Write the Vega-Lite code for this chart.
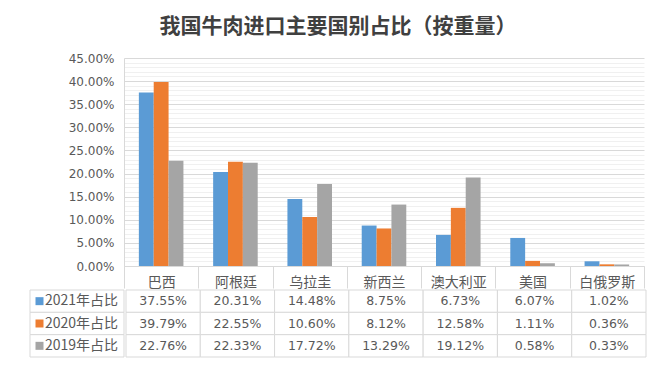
{
  "$schema": "https://vega.github.io/schema/vega-lite/v6.json",
  "padding": {"left": 29, "top": 16, "right": 5, "bottom": 5},
  "background": "white",
  "title": {"text": "我国牛肉进口主要国别占比（按重量）", "font": "Noto Sans CJK SC", "fontSize": 21, "fontWeight": "bold", "color": "#404040", "anchor": "middle", "offset": 15},
  "datasets": {
    "beef": [
      {"country": "巴西", "series": "2021年占比", "value": 0.3755},
      {"country": "巴西", "series": "2020年占比", "value": 0.3979},
      {"country": "巴西", "series": "2019年占比", "value": 0.2276},
      {"country": "阿根廷", "series": "2021年占比", "value": 0.2031},
      {"country": "阿根廷", "series": "2020年占比", "value": 0.2255},
      {"country": "阿根廷", "series": "2019年占比", "value": 0.2233},
      {"country": "乌拉圭", "series": "2021年占比", "value": 0.1448},
      {"country": "乌拉圭", "series": "2020年占比", "value": 0.1060},
      {"country": "乌拉圭", "series": "2019年占比", "value": 0.1772},
      {"country": "新西兰", "series": "2021年占比", "value": 0.0875},
      {"country": "新西兰", "series": "2020年占比", "value": 0.0812},
      {"country": "新西兰", "series": "2019年占比", "value": 0.1329},
      {"country": "澳大利亚", "series": "2021年占比", "value": 0.0673},
      {"country": "澳大利亚", "series": "2020年占比", "value": 0.1258},
      {"country": "澳大利亚", "series": "2019年占比", "value": 0.1912},
      {"country": "美国", "series": "2021年占比", "value": 0.0607},
      {"country": "美国", "series": "2020年占比", "value": 0.0111},
      {"country": "美国", "series": "2019年占比", "value": 0.0058},
      {"country": "白俄罗斯", "series": "2021年占比", "value": 0.0102},
      {"country": "白俄罗斯", "series": "2020年占比", "value": 0.0036},
      {"country": "白俄罗斯", "series": "2019年占比", "value": 0.0033}
    ],
    "series": [
      {"series": "2021年占比"},
      {"series": "2020年占比"},
      {"series": "2019年占比"}
    ]
  },
  "spacing": 0,
  "resolve": {"scale": {"x": "independent", "y": "independent"}},
  "vconcat": [
    {
      "data": {"name": "beef"},
      "width": 614,
      "height": 208,
      "mark": {"type": "bar"},
      "encoding": {
        "x": {
          "field": "country", "type": "nominal",
          "sort": ["巴西", "阿根廷", "乌拉圭", "新西兰", "澳大利亚", "美国", "白俄罗斯"],
          "scale": {"paddingInner": 0, "paddingOuter": 0, "range": [94, 614]},
          "axis": {"title": null, "labelAngle": 0, "domainColor": "#d9d9d9", "tickColor": "#d9d9d9", "tickSize": 22, "tickBand": "extent", "labelPadding": -6, "labelBaseline": "middle", "labelFontSize": 14, "labelColor": "#595959", "labelFont": "Noto Sans CJK SC", "grid": false}
        },
        "xOffset": {
          "field": "series", "type": "nominal",
          "sort": ["2021年占比", "2020年占比", "2019年占比"],
          "scale": {"paddingInner": 0, "paddingOuter": 1.5}
        },
        "y": {
          "field": "value", "type": "quantitative",
          "scale": {"domain": [0, 0.45], "nice": false},
          "axis": {
            "title": null,
            "offset": -94,
            "values": [0, 0.01, 0.02, 0.03, 0.04, 0.05, 0.06, 0.07, 0.08, 0.09, 0.1, 0.11, 0.12, 0.13, 0.14, 0.15, 0.16, 0.17, 0.18, 0.19, 0.2, 0.21, 0.22, 0.23, 0.24, 0.25, 0.26, 0.27, 0.28, 0.29, 0.3, 0.31, 0.32, 0.33, 0.34, 0.35, 0.36, 0.37, 0.38, 0.39, 0.4, 0.41, 0.42, 0.43, 0.44, 0.45],
            "format": ".2%",
            "labelExpr": "round(datum.value*100) % 5 === 0 ? datum.label : ''",
            "labelOverlap": false,
            "grid": true,
            "gridColor": {"condition": {"test": "round(datum.value*100) % 5 === 0", "value": "#d9d9d9"}, "value": "#f0f0f0"},
            "ticks": false,
            "domain": true,
            "domainColor": "#d9d9d9",
            "labelPadding": 10,
            "labelFont": "DejaVu Sans",
            "labelFontSize": 12,
            "labelColor": "#595959"
          }
        },
        "color": {
          "field": "series", "type": "nominal",
          "scale": {"domain": ["2021年占比", "2020年占比", "2019年占比"], "range": ["#5B9BD5", "#ED7D31", "#A5A5A5"]},
          "legend": null
        }
      }
    },
    {
      "spacing": 0,
      "hconcat": [
        {
          "data": {"name": "series"},
          "width": 94,
          "height": 67,
          "encoding": {
            "y": {"field": "series", "type": "nominal", "sort": ["2021年占比", "2020年占比", "2019年占比"], "scale": {"paddingInner": 0, "paddingOuter": 0}, "axis": null}
          },
          "layer": [
            {"mark": {"type": "rect", "fill": "white", "stroke": "#d9d9d9", "strokeWidth": 1}},
            {
              "mark": {"type": "point", "shape": "square", "filled": true, "size": 64, "opacity": 1, "xOffset": -37.5},
              "encoding": {
                "color": {"field": "series", "type": "nominal", "scale": {"domain": ["2021年占比", "2020年占比", "2019年占比"], "range": ["#5B9BD5", "#ED7D31", "#A5A5A5"]}, "legend": null}
              }
            },
            {
              "mark": {"type": "text", "align": "left", "xOffset": -32, "font": "Noto Sans CJK SC", "fontSize": 14, "color": "#595959"},
              "encoding": {"text": {"field": "series", "type": "nominal"}}
            }
          ]
        },
        {
          "data": {"name": "beef"},
          "width": 520,
          "height": 67,
          "encoding": {
            "x": {"field": "country", "type": "nominal", "sort": ["巴西", "阿根廷", "乌拉圭", "新西兰", "澳大利亚", "美国", "白俄罗斯"], "scale": {"paddingInner": 0, "paddingOuter": 0}, "axis": null},
            "y": {"field": "series", "type": "nominal", "sort": ["2021年占比", "2020年占比", "2019年占比"], "scale": {"paddingInner": 0, "paddingOuter": 0}, "axis": null}
          },
          "layer": [
            {"mark": {"type": "rect", "fill": "white", "stroke": "#d9d9d9", "strokeWidth": 1}},
            {
              "mark": {"type": "text", "font": "DejaVu Sans", "fontSize": 12.5, "color": "#595959"},
              "encoding": {"text": {"field": "value", "type": "quantitative", "format": ".2%"}}
            }
          ]
        }
      ]
    }
  ],
  "config": {"view": {"stroke": null}}
}
